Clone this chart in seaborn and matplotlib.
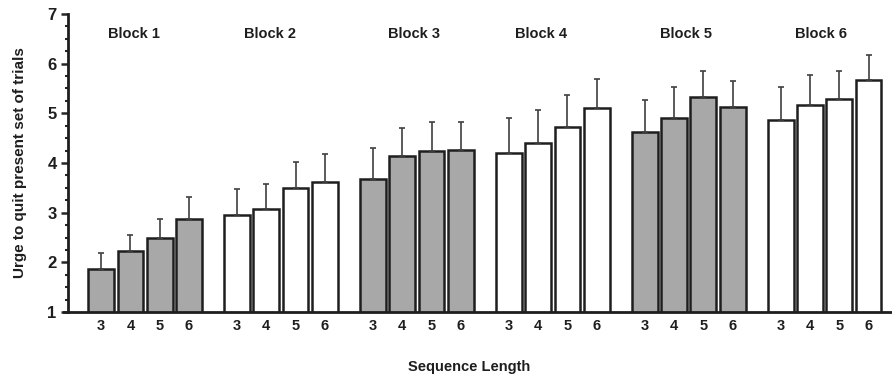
import matplotlib
matplotlib.use("Agg")
import matplotlib.pyplot as plt
from matplotlib.ticker import MultipleLocator
import seaborn as sns
import pandas as pd
import numpy as np

# ---- data ----
blocks = ["Block 1", "Block 2", "Block 3", "Block 4", "Block 5", "Block 6"]
seq_lengths = [3, 4, 5, 6]
means_b1 = [1.87, 2.23, 2.49, 2.88]
means_b2 = [2.95, 3.07, 3.49, 3.62]
means_b3 = [3.67, 4.15, 4.24, 4.27]
means_b4 = [4.21, 4.41, 4.73, 5.10]
means_b5 = [4.62, 4.91, 5.33, 5.12]
means_b6 = [4.86, 5.16, 5.28, 5.67]
err_b1 = [0.31, 0.32, 0.39, 0.43]
err_b2 = [0.52, 0.51, 0.52, 0.56]
err_b3 = [0.64, 0.56, 0.59, 0.55]
err_b4 = [0.69, 0.65, 0.64, 0.59]
err_b5 = [0.65, 0.61, 0.53, 0.53]
err_b6 = [0.66, 0.61, 0.58, 0.50]
y_ticks = [1, 2, 3, 4, 5, 6, 7]

all_means = [means_b1, means_b2, means_b3, means_b4, means_b5, means_b6]
all_errs = [err_b1, err_b2, err_b3, err_b4, err_b5, err_b6]

# ---- layout ----
block_period = 4.64
label_offsets = [-0.39, -0.39, -0.10, -0.40, -0.09, -0.13]

rows = []
for bi, (b, ms, es) in enumerate(zip(blocks, all_means, all_errs)):
    for si, (s, m, e) in enumerate(zip(seq_lengths, ms, es)):
        rows.append({"block": b, "seq": s, "mean": m, "err": e,
                     "pos": round(bi * block_period + si, 3),
                     "shade": "gray" if bi % 2 == 0 else "white"})
df = pd.DataFrame(rows)

sns.set_style("ticks")
plt.rcParams["font.family"] = ["Liberation Sans", "DejaVu Sans"]
plt.rcParams["font.weight"] = "bold"

fig = plt.figure(figsize=(8.92, 3.76), dpi=100)
ax = fig.add_axes([0.0759, 0.1702, 0.9241, 0.7926])

sns.barplot(data=df, x="pos", y="mean", hue="shade", native_scale=True,
            palette={"gray": "#a8a8a8", "white": "#ffffff"}, dodge=False,
            width=0.88, edgecolor="#1e1e1e", linewidth=1.8, legend=False,
            errorbar=None, ax=ax)

ax.errorbar(df["pos"], df["mean"], yerr=[np.zeros(len(df)), df["err"]],
            fmt="none", ecolor="#404040", elinewidth=1.2, capsize=2,
            capthick=1.2, zorder=1)

ax.set_ylim(1, 7)
ax.set_xlim(-1.14, 27.0)
ax.set_yticks(y_ticks)
ax.yaxis.set_minor_locator(MultipleLocator(0.25))
ax.set_xticks(df["pos"])
ax.set_xticklabels([str(s) for s in df["seq"]])
ax.tick_params(axis="x", length=0, pad=5, labelsize=10.5)
ax.tick_params(axis="y", which="major", length=5, width=1.8, labelsize=12, pad=3)
ax.tick_params(axis="y", which="minor", length=2.5, width=1.5)
for lab in ax.get_xticklabels() + ax.get_yticklabels():
    lab.set_fontweight("bold")
    lab.set_color("#1e1e1e")

for side in ["top", "right"]:
    ax.spines[side].set_visible(False)
ax.spines["left"].set_linewidth(2)
ax.spines["bottom"].set_linewidth(2)
ax.spines["left"].set_color("#1e1e1e")
ax.spines["bottom"].set_color("#1e1e1e")
ax.spines["bottom"].set_bounds(-1.25, 27.0)

for bi, b in enumerate(blocks):
    cx = bi * block_period + 1.5 + label_offsets[bi]
    ax.text(cx, 6.6, b, ha="center", va="center", fontsize=10.5,
            fontweight="bold", color="#1e1e1e")

ax.set_xlabel("Sequence Length", fontsize=10.5, fontweight="bold",
              color="#1e1e1e")
ax.xaxis.set_label_coords(0.487, -0.16)
ax.set_ylabel("Urge to quit present set of trials", fontsize=11,
              fontweight="bold", color="#1e1e1e")
ax.yaxis.set_label_coords(-0.049, 0.5)

fig.savefig("out.png", dpi=100)
